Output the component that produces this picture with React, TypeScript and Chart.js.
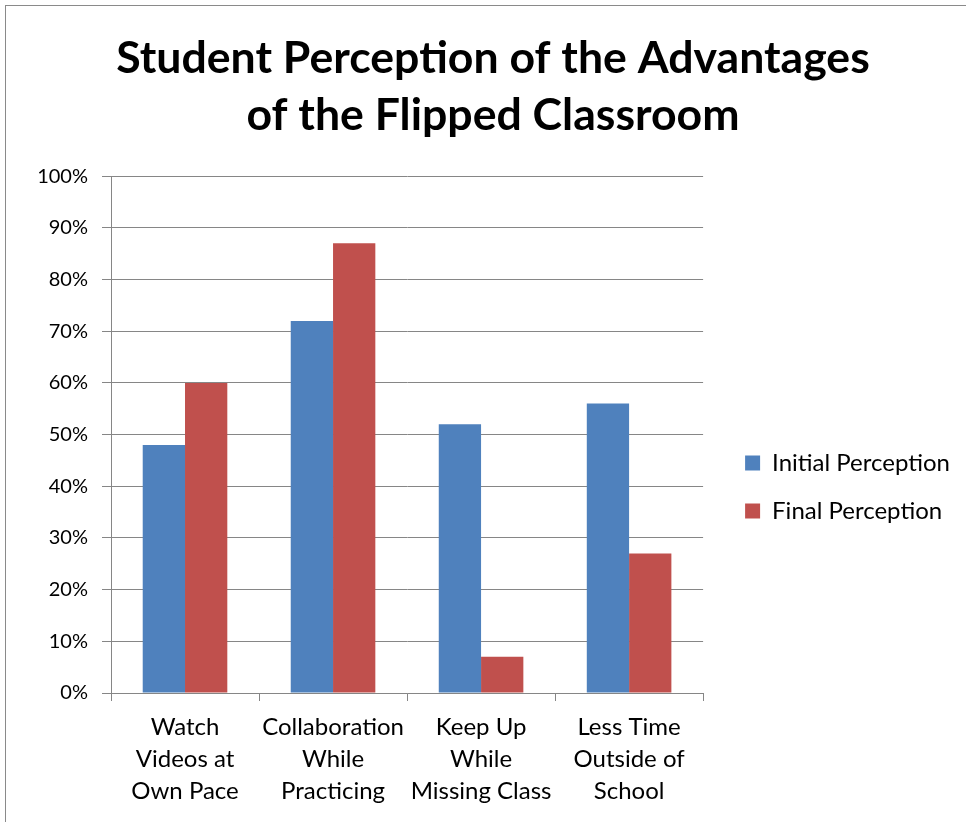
import React, { useEffect, useRef } from 'react';
import { Chart, registerables } from 'chart.js';

Chart.register(...registerables);

const titleLines = ['Student Perception of the Advantages', 'of the Flipped Classroom'];
const categories = [
  ['Watch', 'Videos at', 'Own Pace'],
  ['Collaboration', 'While', 'Practicing'],
  ['Keep Up', 'While', 'Missing Class'],
  ['Less Time', 'Outside of', 'School'],
];
const seriesNames = ['Initial Perception', 'Final Perception'];
const initialPerception = [48, 72, 52, 56];
const finalPerception = [60, 87, 7, 27];
const seriesColors = ['#4F81BD', '#C0504D'];
const yMin = 0;
const yMax = 100;
const yStep = 10;

const FONT = 'Lato, Carlito, Calibri, sans-serif';
const GRID = '#868686';
const LEGEND_SHIFT = 76;

const framePlugin = {
  id: 'frame',
  beforeDraw(chart: any) {
    const { ctx, width, height } = chart;
    ctx.save();
    ctx.fillStyle = '#ffffff';
    ctx.fillRect(0, 0, width, height);
    ctx.strokeStyle = '#8a8a8a';
    ctx.lineWidth = 1;
    ctx.strokeRect(5.5, 5.5, width + 20, height + 20);
    ctx.restore();
  },
  afterLayout(chart: any) {
    const l = chart.legend;
    if (l) {
      l.top += LEGEND_SHIFT;
      l.bottom += LEGEND_SHIFT;
    }
  },
};

export default function App() {
  const ref = useRef<HTMLCanvasElement | null>(null);

  useEffect(() => {
    document.body.style.margin = '0';
    let chart: any = null;
    let cancelled = false;
    const build = () => {
      const canvas = ref.current;
      if (!canvas || cancelled) return;
      chart = new Chart(canvas, {
        type: 'bar',
        data: {
          labels: categories,
          datasets: [
            {
              label: seriesNames[0],
              data: initialPerception,
              backgroundColor: seriesColors[0],
              borderWidth: 0,
              categoryPercentage: 2 / 3.5,
              barPercentage: 1,
            },
            {
              label: seriesNames[1],
              data: finalPerception,
              backgroundColor: seriesColors[1],
              borderWidth: 0,
              categoryPercentage: 2 / 3.5,
              barPercentage: 1,
            },
          ],
        },
        options: {
          responsive: false,
          animation: false,
          devicePixelRatio: 1,
          layout: { padding: { left: 26, right: 6, top: 0, bottom: 0 } },
          plugins: {
            title: {
              display: true,
              text: titleLines,
              color: '#000000',
              font: { family: FONT, size: 44.6, weight: 'bold', lineHeight: 1.28 },
              padding: { top: 30, bottom: 32 },
            },
            legend: {
              position: 'right',
              maxWidth: 400,
              labels: {
                boxWidth: 15,
                boxHeight: 15,
                padding: 24,
                color: '#000000',
                font: { family: FONT, size: 24 },
              },
            },
            tooltip: { enabled: false },
          },
          scales: {
            x: {
              offset: true,
              grid: {
                display: true,
                drawOnChartArea: false,
                drawTicks: true,
                tickLength: 8,
                color: GRID,
                offset: true,
              },
              border: { display: true, color: GRID },
              ticks: {
                color: '#000000',
                font: { family: FONT, size: 24, lineHeight: 1.333 },
                padding: 10,
                maxRotation: 0,
                autoSkip: false,
              },
              afterFit: (s: any) => {
                s.height = 129;
              },
            },
            y: {
              min: yMin,
              max: yMax,
              grid: { color: GRID, tickLength: 9 },
              border: { display: true, color: GRID },
              ticks: {
                stepSize: yStep,
                color: '#000000',
                font: { family: FONT, size: 20 },
                padding: 14,
                callback: (v: any) => v + '%',
              },
              afterFit: (s: any) => {
                s.width = 85;
              },
            },
            y2: {
              position: 'right',
              display: true,
              grid: { display: false },
              border: { display: false },
              ticks: { display: false },
              afterFit: (s: any) => {
                s.width = 18;
              },
            },
          },
        },
        plugins: [framePlugin],
      });
    };
    const fonts: any = (document as any).fonts;
    if (fonts && fonts.load) {
      Promise.all([
        fonts.load('bold 44px Lato'),
        fonts.load('24px Lato'),
        fonts.load('20px Lato'),
      ])
        .catch(() => null)
        .then(() => (fonts.ready ? fonts.ready : null))
        .then(build);
    } else {
      build();
    }
    return () => {
      cancelled = true;
      if (chart) chart.destroy();
    };
  }, []);

  return (
    <div style={{ width: 966, height: 822 }}>
      <canvas ref={ref} width={966} height={822} style={{ display: 'block' }} />
    </div>
  );
}
